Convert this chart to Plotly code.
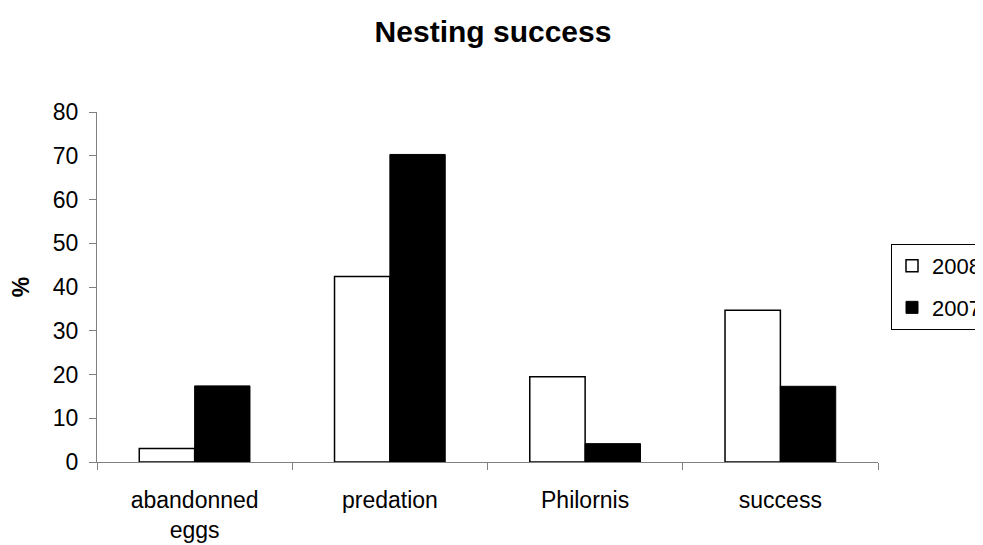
import plotly.graph_objects as go

categories = ["abandonned<br>eggs", "predation", "Philornis", "success"]
values_2008 = [3.1, 42.4, 19.5, 34.7]
values_2007 = [17.4, 70.3, 4.2, 17.3]

font = "Liberation Sans, Arial, sans-serif"

fig = go.Figure()
fig.add_trace(go.Bar(x=categories, y=values_2008, name="2008",
                     marker=dict(color="white", line=dict(color="black", width=1.5)),
                     legendgroup="a"))
fig.add_trace(go.Bar(x=categories, y=values_2007, name="2007",
                     marker=dict(color="black", line=dict(color="black", width=1)),
                     legendgroup="b"))

fig.update_layout(
    width=1100, height=545,
    paper_bgcolor="white", plot_bgcolor="white",
    margin=dict(l=89, r=230, t=104, b=91, autoexpand=False),
    font=dict(family=font, size=23, color="black"),
    title=dict(text="<b>Nesting success</b>", x=(493 - 8) / 1100, xanchor="center",
               y=1 - 23 / 545, yanchor="middle", font=dict(size=30)),
    barmode="group", bargap=0.433, bargroupgap=0,
    showlegend=True,
    legend=dict(x=(891 - 8 - 89) / 781, xanchor="left", y=0.623, yanchor="top",
                bordercolor="black", borderwidth=1, bgcolor="white",
                tracegroupgap=10, font=dict(size=22), itemwidth=30),
    xaxis=dict(showline=True, linecolor="#808080", linewidth=1,
               ticks="outside", ticklen=7, tickcolor="#808080",
               tickson="boundaries", showgrid=False, ticklabelstandoff=17),
    yaxis=dict(range=[0, 80], dtick=10, showline=True, linecolor="#808080",
               linewidth=1, ticks="outside", ticklen=7, tickcolor="#808080",
               showgrid=False, zeroline=False, ticklabelstandoff=6,
               title=dict(text="<b>%</b>", standoff=20, font=dict(size=23))),
)

fig.write_html("out.html")
